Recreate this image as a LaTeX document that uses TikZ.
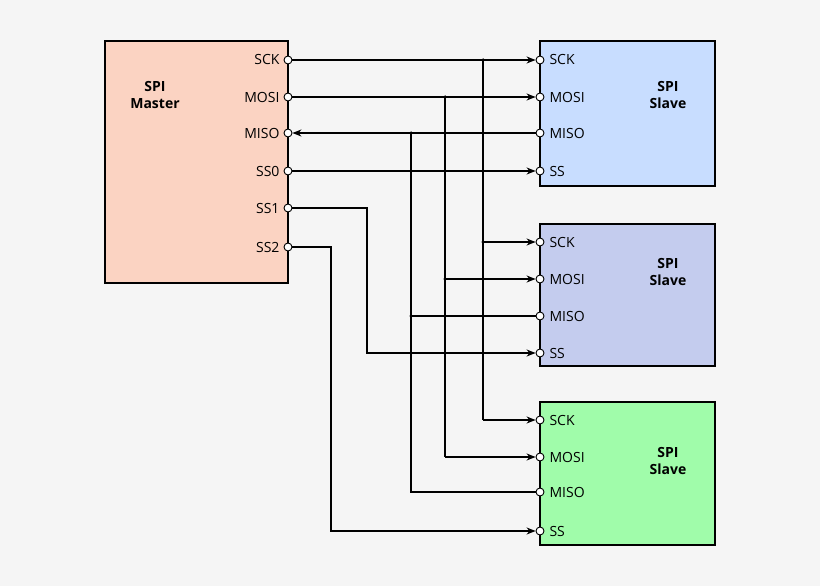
\documentclass[tikz,border=0pt]{standalone}
\usepackage{fontspec}
\setmainfont{Open Sans}
\usetikzlibrary{arrows.meta}
\definecolor{bg}{HTML}{F5F5F5}
\definecolor{mcol}{HTML}{FBD3C2}
\definecolor{s1col}{HTML}{C8DDFF}
\definecolor{s2col}{HTML}{C4CCEE}
\definecolor{s3col}{HTML}{A0FCAA}
\begin{document}
\begin{tikzpicture}[x=1pt,y=-1pt,
  box/.style={draw,line width=1.2pt},
  pin/.style={circle,draw,fill=white,line width=0.9pt,inner sep=0pt,minimum size=8pt},
  lab/.style={font=\fontsize{14}{16}\selectfont},
  title/.style={font=\bfseries\fontsize{14}{17}\selectfont,align=center},
  w/.style={line width=1.2pt},
  a/.style={w,-{Stealth[length=9pt,width=7pt]}},
  dot/.style={circle,fill,inner sep=0pt,minimum size=3.5pt}]
\fill[bg] (0,0) rectangle (820,586);
\useasboundingbox (0,0) rectangle (820,586);
\draw[box,fill=mcol] (105,41) rectangle (288,283);
\draw[box,fill=s1col] (540,41) rectangle (715,186);
\draw[box,fill=s2col] (540,224) rectangle (715,366);
\draw[box,fill=s3col] (540,402) rectangle (715,545);
\node[title] at (155,95) {SPI\\Master};
\node[title] at (668,95) {SPI\\Slave};
\node[title] at (668,272) {SPI\\Slave};
\node[title] at (668,461) {SPI\\Slave};
% master pins
\foreach \n/\t/\y in {msck/SCK/60,mmosi/MOSI/97,mmiso/MISO/133,mss0/SS0/171,mss1/SS1/208,mss2/SS2/247}{
  \node[pin] (\n) at (288,\y) {};
  \node[lab,anchor=east] at (283,\y) {\t};
}
\foreach \s/\ya/\yb/\yc/\yd in {a/60/97/133/171,b/242/279/316/353,c/420/457/492/531}{
  \node[pin] (\s sck) at (540,\ya) {};
  \node[pin] (\s mosi) at (540,\yb) {};
  \node[pin] (\s miso) at (540,\yc) {};
  \node[pin] (\s ss) at (540,\yd) {};
  \node[lab,anchor=west] at (546,\ya) {SCK};
  \node[lab,anchor=west] at (546,\yb) {MOSI};
  \node[lab,anchor=west] at (546,\yc) {MISO};
  \node[lab,anchor=west] at (546,\yd) {SS};
}
% SCK
\draw[a] (msck) -- (asck);
\draw[w] (483,60) -- (483,420);
\draw[a] (483,242) -- (bsck);
\draw[a] (483,420) -- (csck);
\node[dot] at (483,60) {}; \node[dot] at (483,242) {};
% MOSI
\draw[a] (mmosi) -- (amosi);
\draw[w] (445,97) -- (445,457);
\draw[a] (445,279) -- (bmosi);
\draw[a] (445,457) -- (cmosi);
\node[dot] at (445,97) {}; \node[dot] at (445,279) {};
% MISO
\draw[a] (amiso) -- (mmiso);
\draw[w] (411,133) -- (411,492) -- (cmiso);
\draw[w] (bmiso) -- (411,316);
\node[dot] at (411,133) {}; \node[dot] at (411,316) {};
% SS
\draw[a] (mss0) -- (ass);
\draw[a] (mss1) -- (367,208) -- (367,353) -- (bss);
\draw[a] (mss2) -- (331,247) -- (331,531) -- (css);
\end{tikzpicture}
\end{document}
